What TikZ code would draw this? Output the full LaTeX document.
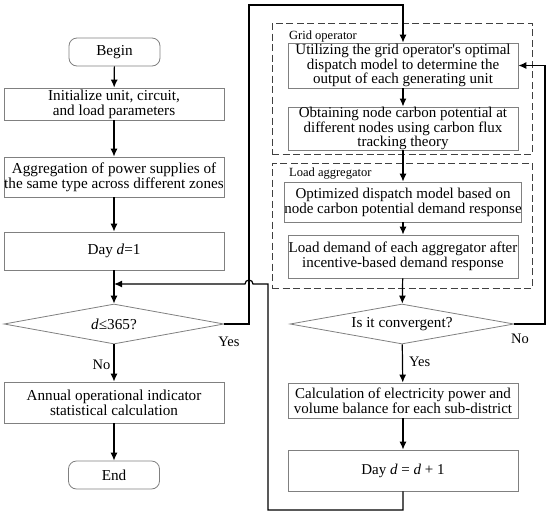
\documentclass[tikz,border=0pt]{standalone}
\usepackage{fontspec}
\setmainfont{Liberation Serif}
\usepackage{tikz}
\usetikzlibrary{arrows.meta,shapes.geometric}
\colorlet{fcedge}{black!50}
\colorlet{fcline}{black}
\colorlet{fcdash}{black!75}
\tikzset{
  fcstage/.style={
    draw=fcedge,
    line width=0.8pt,
    align=center,
    inner sep=0pt,
    font=\fontsize{15.2}{15}\selectfont
  },
  fcbox/.style={fcstage,rectangle,minimum width=220pt},
  fcwide/.style={fcstage,rectangle,minimum width=230pt,
                 font=\fontsize{15}{12.7}\selectfont},
  fcterm/.style={fcstage,rounded corners=8pt,minimum width=91pt,minimum height=28pt},
  fcdecide/.style={fcstage,diamond,aspect=5.5},
  fcgroup/.style={draw=fcdash,line width=1pt,dash pattern=on 7pt off 3.5pt,
                  inner sep=0pt},
  fcgrouplabel/.style={font=\fontsize{12.5}{13}\selectfont,anchor=west,inner sep=0pt},
  fcflow/.style={-{Latex[length=8pt,width=7pt]},line width=1.2pt,fcline},
  fclabel/.style={font=\fontsize{14.5}{15}\selectfont,inner sep=0pt}
}

\begin{document}
\begin{tikzpicture}[x=1pt,y=-1pt]
  \useasboundingbox (0,0) rectangle (550,515);

  % groups on the right
  \node[fcgroup,minimum width=260pt,minimum height=131pt] (gridbox) at (402,88.5) {};
  \node[fcgroup,minimum width=260pt,minimum height=125pt] (loadbox) at (402,225.5) {};
  \node[fcgrouplabel] (gridlbl) at (289,36) {Grid operator};
  \node[fcgrouplabel] (loadlbl) at (289,174) {Load aggregator};

  % left column
  \node[fcterm] (begin) at (114.5,52) {Begin};
  \node[fcbox,minimum height=32pt] (init) at (114,104)
    {Initialize unit, circuit,\\and load parameters};
  \node[fcbox,minimum height=40pt] (aggr) at (114,177)
    {Aggregation of power supplies of\\the same type across different zones};
  \node[fcbox,minimum height=38pt] (day1) at (114,251) {Day \textit{d}=1};
  \node[fcdecide,minimum width=220pt,minimum height=40pt] (dia1) at (114,324)
    {\textit{d}≤365?};
  \node[fcbox,minimum height=41pt] (annual) at (114,402.5)
    {Annual operational indicator\\statistical calculation};
  \node[fcterm] (end) at (114,475) {End};

  % right column
  \node[fcwide,minimum height=45pt] (util) at (403,65.5)
    {Utilizing the grid operator\textquotesingle s optimal\\dispatch model to determine the\\output of each generating unit};
  \node[fcwide,minimum height=41pt] (obtain) at (403,128.5)
    {Obtaining node carbon potential at\\different nodes using carbon flux\\tracking theory};
  \node[fcwide,minimum height=40pt,font=\fontsize{15}{15}\selectfont] (optim) at (403,202)
    {Optimized dispatch model based on\\node carbon potential demand response};
  \node[fcwide,minimum height=43pt,font=\fontsize{15}{15}\selectfont] (loaddem) at (403,256.5)
    {Load demand of each aggregator after\\incentive-based demand response};
  \node[fcdecide,minimum width=224pt,minimum height=40pt] (dia2) at (402,324)
    {Is it convergent?};
  \node[fcwide,minimum height=35pt,font=\fontsize{15}{15}\selectfont] (calc) at (403,400.5)
    {Calculation of electricity power and\\volume balance for each sub-district};
  \node[fcwide,minimum height=41pt] (dayinc) at (403,470.5)
    {Day \textit{d} = \textit{d} + 1};

  % turning points
  \coordinate (looptop) at (249,5);
  \coordinate (retright) at (545,200);
  \coordinate (loopbot) at (268,510);
  \coordinate (loopjoin) at (268,284);
  \coordinate (jumpR) at (253,284);

  % main flow
  \draw[fcflow] (begin) -- (init);
  \draw[fcflow] (init) -- (aggr);
  \draw[fcflow] (aggr) -- (day1);
  \draw[fcflow] (day1) -- (dia1);
  \draw[fcflow] (dia1) -- (annual) node[fclabel,pos=0.55,left=3pt] (nolbl) {No};
  \draw[fcflow] (annual) -- (end);

  \draw[fcflow] (dia1.east) -| (looptop) -| (util.north);
  \draw[fcflow] (util) -- (obtain);
  \draw[fcflow] (obtain) -- (optim);
  \draw[fcflow] (optim) -- (loaddem);
  \draw[fcflow] (loaddem) -- (dia2);
  \draw[fcflow] (dia2) -- (calc) node[fclabel,pos=0.45,right=6pt] (yeslbl2) {Yes};
  \draw[fcflow] (calc) -- (dayinc);
  \draw[fcflow] (dia2.east) -| (retright) |- (util.east);
  \draw[fcflow] (dayinc.south) |- (loopbot) -- (loopjoin) -- (jumpR)
    arc[start angle=0,end angle=180,radius=4pt] -- (day1.south |- loopjoin);

  \node[fclabel] (yeslbl1) at (229,342) {Yes};
  \node[fclabel] (nolbl2) at (520,339) {No};
\end{tikzpicture}
\end{document}
